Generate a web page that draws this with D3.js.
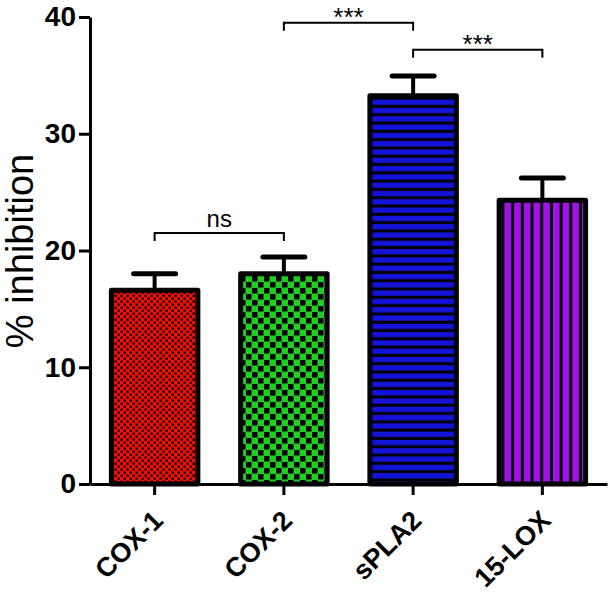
<!DOCTYPE html>
<html>
<head>
<meta charset="utf-8">
<script src="https://cdn.jsdelivr.net/npm/d3@7"></script>
<style>
  html, body { margin: 0; padding: 0; background: #fff; }
  svg { display: block; }
</style>
</head>
<body>
<script>
// ---- data ----
const categories = ["COX-1", "COX-2", "sPLA2", "15-LOX"];
const means = [16.6, 18.0, 33.25, 24.3];
const errors = [1.4, 1.45, 1.7, 1.9];
const yTicks = [0, 10, 20, 30, 40];
const comparisons = [
  { a: "COX-1", b: "COX-2", level: 21.5, label: "ns" },
  { a: "COX-2", b: "sPLA2", level: 39.5, label: "***" },
  { a: "sPLA2", b: "15-LOX", level: 37.2, label: "***" }
];
const fills = ["url(#pRed)", "url(#pGreen)", "url(#pBlue)", "url(#pPurple)"];

// ---- chart ----
const W = 610, H = 596;
const svg = d3.select("body").append("svg").attr("width", W).attr("height", H);

const defs = svg.append("defs");
// red fine checker
let p = defs.append("pattern").attr("id", "pRed").attr("patternUnits", "userSpaceOnUse")
  .attr("width", 6).attr("height", 6);
p.append("rect").attr("width", 6).attr("height", 6).attr("fill", "#f20d0d");
p.append("rect").attr("x", 0.5).attr("y", 0.5).attr("width", 2.3).attr("height", 2.3).attr("fill", "#000");
p.append("rect").attr("x", 3.5).attr("y", 3.5).attr("width", 2.3).attr("height", 2.3).attr("fill", "#000");
// green checker
p = defs.append("pattern").attr("id", "pGreen").attr("patternUnits", "userSpaceOnUse")
  .attr("width", 12).attr("height", 12);
p.append("rect").attr("width", 12).attr("height", 12).attr("fill", "#1fcf1f");
p.append("rect").attr("x", 0).attr("y", 0).attr("width", 5.5).attr("height", 5.5).attr("fill", "#000");
p.append("rect").attr("x", 6).attr("y", 6).attr("width", 5.5).attr("height", 5.5).attr("fill", "#000");
// blue horizontal stripes
p = defs.append("pattern").attr("id", "pBlue").attr("patternUnits", "userSpaceOnUse")
  .attr("width", 8).attr("height", 8.3);
p.append("rect").attr("width", 8).attr("height", 8.3).attr("fill", "#1414d8");
p.append("rect").attr("x", 0).attr("y", 5.3).attr("width", 8).attr("height", 3).attr("fill", "#000");
// purple vertical stripes
p = defs.append("pattern").attr("id", "pPurple").attr("patternUnits", "userSpaceOnUse")
  .attr("width", 9.7).attr("height", 10);
p.append("rect").attr("width", 9.7).attr("height", 10).attr("fill", "#a012e8");
p.append("rect").attr("x", 6.7).attr("y", 0).attr("width", 3).attr("height", 10).attr("fill", "#000");

const x = d3.scaleBand().domain(categories).range([90, 607]).paddingInner(0.3).paddingOuter(0.15);
const y = d3.scaleLinear().domain([0, 40]).range([484, 17]);

const FONT = "'Liberation Sans', Arial, Helvetica, sans-serif";

// bars
svg.append("g").selectAll("rect").data(categories).join("rect")
  .attr("x", d => x(d) + 2)
  .attr("width", x.bandwidth() - 4)
  .attr("y", (d, i) => y(means[i]))
  .attr("height", (d, i) => y(0) - y(means[i]))
  .attr("fill", (d, i) => fills[i])
  .attr("stroke", "#000").attr("stroke-width", 5)
  .attr("stroke-linejoin", "round");

// error bars
const eg = svg.append("g").attr("stroke", "#000").attr("stroke-linecap", "round");
categories.forEach((c, i) => {
  const cx = x(c) + x.bandwidth() / 2;
  eg.append("line").attr("x1", cx).attr("x2", cx)
    .attr("y1", y(means[i]) - 2).attr("y2", y(means[i] + errors[i]))
    .attr("stroke-width", 4);
  eg.append("line").attr("x1", cx - 21).attr("x2", cx + 21)
    .attr("y1", y(means[i] + errors[i])).attr("y2", y(means[i] + errors[i]))
    .attr("stroke-width", 5);
});

// axes
const yAxis = svg.append("g").attr("transform", "translate(90,0)")
  .call(d3.axisLeft(y).tickValues(yTicks).tickSize(11).tickSizeOuter(0).tickPadding(3));
const xAxis = svg.append("g").attr("transform", "translate(0,484)")
  .call(d3.axisBottom(x).tickSize(11).tickSizeOuter(0));

[yAxis, xAxis].forEach(g => {
  g.select(".domain").attr("stroke", "#000").attr("stroke-width", 3);
  g.selectAll(".tick line").attr("stroke", "#000").attr("stroke-width", 3);
});
yAxis.selectAll(".tick text")
  .attr("font-family", FONT).attr("font-weight", "bold").attr("font-size", 28).attr("fill", "#000");
xAxis.selectAll(".tick text")
  .attr("font-family", FONT).attr("font-weight", "bold").attr("font-size", 27).attr("fill", "#000")
  .attr("text-anchor", "end")
  .attr("dy", null).attr("y", null)
  .attr("transform", "translate(10,38) rotate(-45)");

// y label
svg.append("text")
  .attr("transform", "translate(33,251) rotate(-90)")
  .attr("text-anchor", "middle")
  .attr("font-family", FONT).attr("font-size", 38).attr("fill", "#000")
  .text("% inhibition");

// significance brackets
const bg = svg.append("g");
comparisons.forEach(cmp => {
  const x1 = x(cmp.a) + x.bandwidth() / 2;
  const x2 = x(cmp.b) + x.bandwidth() / 2;
  const yy = y(cmp.level);
  bg.append("path")
    .attr("d", `M${x1},${yy + 8}V${yy}H${x2}V${yy + 8}`)
    .attr("fill", "none").attr("stroke", "#000").attr("stroke-width", 2);
  const isNs = cmp.label === "ns";
  bg.append("text")
    .attr("x", (x1 + x2) / 2)
    .attr("y", isNs ? yy - 6 : yy + 3)
    .attr("text-anchor", "middle")
    .attr("font-family", FONT)
    .attr("font-size", isNs ? 24 : 26)
    .attr("fill", "#000")
    .text(cmp.label);
});
</script>
</body>
</html>
